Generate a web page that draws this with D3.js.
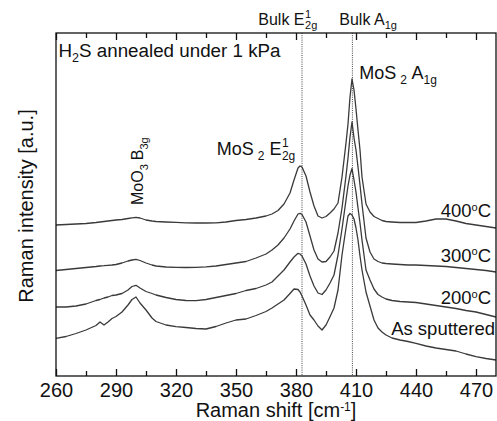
<!DOCTYPE html>
<html><head><meta charset="utf-8">
<script src="https://cdn.jsdelivr.net/npm/d3@7"></script>
<style>
body{margin:0;background:#fff}
svg{display:block}
text{font-family:"Liberation Sans",Arial,Helvetica,sans-serif;fill:#111}
</style>
</head><body>
<svg id="c" width="497" height="421"></svg>
<script>
// ---- data (Raman shift in cm^-1, intensity in arbitrary units, curves offset) ----
const ramanShift = [260,265,270,275,280,282,284,286,288,290,293,296,298,300,302,305,308,310,315,320,
  325,330,335,340,345,350,355,360,365,368,371,374,377,379,381,382,383,385,387,389,
  391,393,395,397,399,401,403,405,406,407,408,409,410,411,412,413,415,417,419,421,
  423,425,428,432,436,440,445,450,455,460,465,470,475,480];
const int400C = [151,151.5,152,152.5,153.5,154,154.5,155,155.5,156,156.5,157.5,158.2,158.7,158,156,155,154.5,154,153.7,
  153.2,153,153,153.2,154,155.5,156.5,158,160,162,165.5,172,183,196,208,210,209,200,184,170,
  160,158,159.5,163,167,173,199,233,252,279,297,286,267,246,226,199,172,164,159.5,157.5,
  155.5,154.5,154,153.5,153.5,153.5,155,157,157,155,152.5,151,149.5,148];
const int300C = [105.5,106.5,107.5,108.5,109.5,110,110.3,110.7,111,111.5,113,115,116,116.7,115.5,113,111,110,109,108.7,
  108.5,108.7,109.2,110,111.5,113,114.5,118,122,126,131,138,147,155,162,162.7,161.5,154,140,126,
  117,114,114.5,119,125,143,168,200,218,239,254,238,226,209,191,172,138,124,117,114.5,
  113,112.5,112,111.5,111,111,110.5,110,109.5,108.5,107.5,106.5,105.5,104];
const int200C = [69,69,70,72,75.5,76.5,78,79,80.5,81,82.5,86,89.5,90.7,88,84.5,82.5,81,78.5,76.5,
  75.5,75.3,76.5,78.5,80.5,82.5,85.5,87.5,91,94,100,106,114,119,122.7,122,120,112,100,90,
  83,81.5,86,93,101,121,147,176,190,201,207.5,196,184,168,153,136,106,96,87,81.5,
  79,77,75.5,74.5,74,73.5,72,70.5,69,67.5,65.5,64,61.5,59];
const intAsSputtered = [37.7,39.5,42.5,46,50.5,54,51,54,57.5,59.5,64,71,76.5,79,73,66,58,54.5,51,49.3,
  48.5,47.5,47,49.5,53,56,57,60.5,64.5,68,72,76,82.5,87,86.5,84,80,71,61,56,
  50,46,51,59.3,68,86,121,148,160,162.5,161,157,148,136,120,106,84,70,56,48,
  44,41,38,36,34.5,32.7,30,28,26.5,25,22,19.3,17.5,16];
const seriesLabels = ["400", "300", "200"];
const xMajorTicks = [260,290,320,350,380,410,440,470];
const xMinorTicks = [275,305,335,365,395,425,455];
const bulkPositions = [383, 408.2];

// ---- layout ----
const svg = d3.select("#c");
const x = d3.scaleLinear().domain([260,480]).range([56,496]);
const y = d3.scaleLinear().domain([0,343]).range([376,33]);

// bulk reference dotted lines
svg.selectAll("line.bulk").data(bulkPositions).enter().append("line")
  .attr("class","bulk")
  .attr("x1", d=>x(d)).attr("x2", d=>x(d))
  .attr("y1", y(343)).attr("y2", y(0))
  .attr("stroke","#444").attr("stroke-width",1).attr("stroke-dasharray","1,1.2");

// curves
const line = d3.line().x(d=>x(d[0])).y(d=>y(d[1]));
const allSeries = [int400C, int300C, int200C, intAsSputtered];
svg.append("g").selectAll("path").data(allSeries).enter().append("path")
  .attr("d", s => line(d3.zip(ramanShift, s)))
  .attr("fill","none").attr("stroke","#3a3a3a").attr("stroke-width",1.3)
  .attr("stroke-linejoin","round");

// axes
const axB = svg.append("g").attr("transform",`translate(0,${y(0)})`)
  .call(d3.axisBottom(x).tickValues(xMajorTicks).tickSize(-7).tickSizeOuter(0).tickPadding(6.5).tickFormat(d3.format("d")));
svg.append("g").attr("transform",`translate(0,${y(0)})`)
  .call(d3.axisBottom(x).tickValues(xMinorTicks).tickSize(-5).tickSizeOuter(0).tickFormat(""));
svg.append("g").attr("transform",`translate(0,${y(343)})`)
  .call(d3.axisTop(x).tickValues(xMajorTicks).tickSize(-7).tickSizeOuter(0).tickFormat(""));
svg.append("g").attr("transform",`translate(0,${y(343)})`)
  .call(d3.axisTop(x).tickValues(xMinorTicks).tickSize(-5).tickSizeOuter(0).tickFormat(""));
svg.selectAll(".tick line").attr("stroke","#111").attr("stroke-width",1.3);
svg.selectAll(".domain").attr("stroke","none");
axB.selectAll("text").attr("font-size",20).attr("fill","#111")
  .style("font-family",'"Liberation Sans",Arial,sans-serif');
// frame
svg.append("rect").attr("x",x(260)).attr("y",y(343))
  .attr("width",x(480)-x(260)).attr("height",y(0)-y(343))
  .attr("fill","none").attr("stroke","#111").attr("stroke-width",1.3);

// rich text helper
function rich(x0, y0, parts, rotate) {
  const g = svg.append("g").attr("transform",`translate(${x0},${y0})` + (rotate?` rotate(${rotate})`:""));
  let cx = 0;
  parts.forEach(p => {
    cx += p.gap || 0;
    const items = p.stack || [p];
    let w = 0;
    items.forEach(q => {
      const t = g.append("text").attr("x",cx).attr("y",q.dy||0).attr("font-size",q.s).text(q.t);
      w = Math.max(w, t.node().getComputedTextLength());
    });
    cx += w;
  });
  return g;
}

rich(58.5, 57.3, [{t:"H",s:18.8},{t:"2",s:12.5,dy:5},{t:"S annealed under 1 kPa",s:18.8}]);
rich(258.3, 25, [{t:"Bulk E",s:16},{gap:0.5,stack:[{t:"1",s:11,dy:-7},{t:"2g",s:11,dy:4}]}]);
rich(339.3, 25, [{t:"Bulk A",s:16},{t:"1g",s:11,dy:4}]);
rich(359.3, 79, [{t:"MoS",s:18},{gap:4,t:"2",s:12,dy:5},{gap:4.5,t:"A",s:18},{t:"1g",s:12,dy:5}]);
rich(216.7, 155, [{t:"MoS",s:18},{gap:4,t:"2",s:12,dy:5},{gap:5,t:"E",s:18},{gap:0.5,stack:[{t:"1",s:12,dy:-8.5},{t:"2g",s:12,dy:5}]}]);
rich(143.3, 205, [{t:"MoO",s:16},{t:"3",s:11,dy:4.5},{gap:4,t:"B",s:16},{t:"3g",s:11,dy:4.5}], -90);

// temperature labels
const tempBaselines = [217.3, 261.7, 304];
seriesLabels.forEach((lab,i) => {
  const t = svg.append("text").attr("x",491).attr("y",tempBaselines[i])
    .attr("text-anchor","end").attr("font-size",18.5);
  t.append("tspan").text(lab);
  t.append("tspan").attr("dy",-6.5).attr("font-size",11).text("o");
  t.append("tspan").attr("dy",6.5).text("C");
});
svg.append("text").attr("x",495).attr("y",335).attr("text-anchor","end")
  .attr("font-size",18.5).text("As sputtered");

// axis titles
const xt = svg.append("text").attr("x",276).attr("y",417).attr("text-anchor","middle").attr("font-size",20);
xt.append("tspan").text("Raman shift [cm");
xt.append("tspan").attr("dy",-6).attr("font-size",12).text("-1");
xt.append("tspan").attr("dy",6).text("]");
svg.append("text").attr("transform","translate(33,206) rotate(-90)")
  .attr("text-anchor","middle").attr("font-size",20).text("Raman intensity [a.u.]");
</script>
</body></html>
